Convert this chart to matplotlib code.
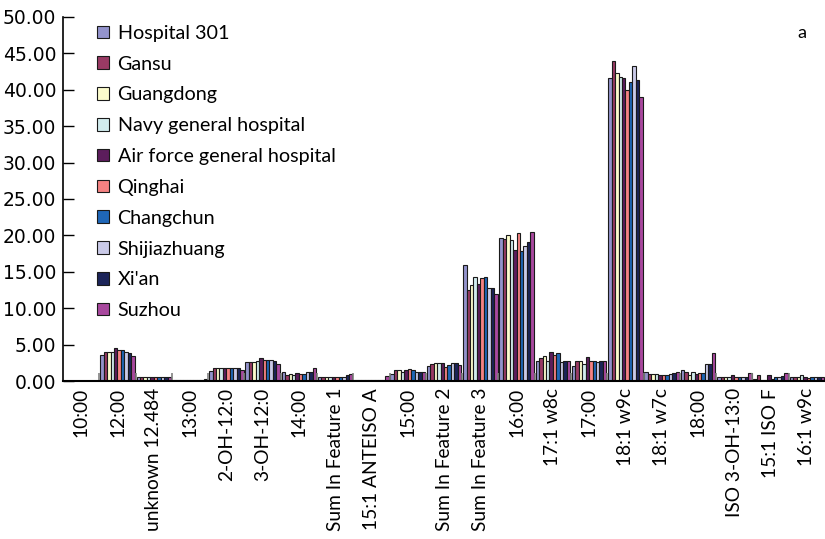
import numpy as np
import matplotlib
matplotlib.use("Agg")
import matplotlib.pyplot as plt
from matplotlib.ticker import FixedLocator, FormatStrFormatter

# Categories (fatty acids) on the x axis
categories = ["10:00", "12:00", "unknown 12.484", "13:00", "2-OH-12:0", "3-OH-12:0",
              "14:00", "Sum In Feature 1", "15:1 ANTEISO A", "15:00", "Sum In Feature 2",
              "Sum In Feature 3", "16:00", "17:1 w8c", "17:00", "18:1 w9c", "18:1 w7c",
              "18:00", "ISO 3-OH-13:0", "15:1 ISO F", "16:1 w9c"]

hospital_301 = [0, 3.6, 0.5, 0.2, 1.4, 2.6, 1.2, 0.5, 0.2, 1.0, 2.0, 15.9, 19.7, 2.8, 2.0, 41.6, 1.2, 1.5, 0.5, 0.3, 0.5]
gansu        = [0, 4.0, 0.5, 0.2, 1.8, 2.6, 0.8, 0.5, 0.2, 1.5, 2.3, 12.5, 19.5, 3.1, 2.8, 44.0, 1.0, 1.2, 0.5, 0.8, 0.5]
guangdong    = [0, 4.0, 0.5, 0.2, 1.8, 2.6, 1.0, 0.5, 0.2, 1.5, 2.5, 13.2, 20.0, 3.4, 2.8, 42.3, 1.0, 0.8, 0.5, 0.2, 0.5]
navy         = [0, 4.0, 0.5, 0.2, 1.8, 2.8, 0.8, 0.5, 0.2, 1.2, 2.5, 14.3, 19.4, 2.8, 2.4, 41.7, 1.0, 1.2, 0.5, 0.2, 0.8]
air_force    = [0, 4.6, 0.5, 0.2, 1.8, 3.1, 1.1, 0.5, 0.2, 1.5, 2.5, 13.3, 18.0, 4.0, 3.3, 41.6, 0.8, 1.0, 0.8, 0.8, 0.5]
qinghai      = [0, 4.3, 0.5, 0.2, 1.8, 2.9, 1.0, 0.5, 0.2, 1.7, 1.9, 14.1, 20.3, 3.6, 2.7, 40.0, 0.8, 1.1, 0.5, 0.3, 0.4]
changchun    = [0, 4.3, 0.5, 0.2, 1.8, 2.9, 1.0, 0.6, 0.2, 1.5, 2.2, 14.3, 17.9, 3.8, 2.8, 41.1, 0.8, 1.1, 0.5, 0.5, 0.5]
shijiazhuang = [0, 4.0, 0.5, 0.2, 1.8, 2.9, 1.3, 0.5, 0.2, 1.2, 2.5, 12.8, 18.6, 2.6, 2.6, 43.2, 1.0, 2.3, 0.6, 0.5, 0.5]
xian         = [0, 3.9, 0.5, 0.2, 1.8, 2.8, 1.2, 0.8, 0.2, 1.2, 2.5, 12.8, 19.1, 2.7, 2.7, 41.3, 1.1, 2.3, 0.6, 0.7, 0.5]
suzhou       = [0, 3.5, 0.5, 0.3, 1.5, 2.3, 1.8, 1.0, 0.7, 1.2, 2.2, 11.9, 20.5, 2.7, 2.8, 39.0, 1.2, 3.9, 1.1, 1.1, 0.5]

series_names = ["Hospital 301", "Gansu", "Guangdong", "Navy general hospital",
                "Air force general hospital", "Qinghai", "Changchun", "Shijiazhuang",
                "Xi'an", "Suzhou"]
series_values = [hospital_301, gansu, guangdong, navy, air_force, qinghai,
                 changchun, shijiazhuang, xian, suzhou]
colors = ["#9393cc", "#993a64", "#fcfccc", "#d2ecee", "#5c1d5c", "#f58282",
          "#1f67b8", "#cacae8", "#1c2459", "#a8489e"]

fig = plt.figure(figsize=(8.25, 5.39), dpi=100)
ax = fig.add_axes([0.0764, 0.2931, 0.9236, 0.6754])

x = np.arange(len(categories))
n = len(series_values)
bar_w = 0.095
for i, (name, vals, col) in enumerate(zip(series_names, series_values, colors)):
    offs = (i - (n - 1) / 2) * bar_w
    ax.bar(x + offs, vals, width=bar_w, color=col, edgecolor="#1a1a1a",
           linewidth=0.8, label=name)

ax.set_xlim(-0.5, len(categories) - 0.5)
ax.set_ylim(0, 50)
ax.set_yticks(np.arange(0, 50.1, 5))
ax.yaxis.set_major_formatter(FormatStrFormatter("%.2f"))
ax.tick_params(axis="y", direction="in", length=8, width=1, labelsize=13.5, pad=5)
for lab in ax.get_yticklabels():
    lab.set_family("DejaVu Sans")

ax.set_xticks(x)
ax.set_xticklabels(categories, rotation=90, fontsize=13.8, family="Lato")
ax.tick_params(axis="x", which="major", length=0, pad=5)
ax.xaxis.set_minor_locator(FixedLocator(np.arange(0.5, len(categories) - 0.5, 1)))
ax.tick_params(axis="x", which="minor", direction="in", length=6, width=1.2, color="#808080")

for s in ["top", "right"]:
    ax.spines[s].set_visible(False)
ax.spines["left"].set_linewidth(1.2)
ax.spines["bottom"].set_linewidth(1.5)

leg = ax.legend(loc="upper left", bbox_to_anchor=(0.034, 1.0), frameon=False,
                prop={"family": "Lato", "size": 14.2}, handlelength=0.6, handleheight=0.6,
                handletextpad=0.45, labelspacing=0.7, borderaxespad=0)

ax.text(0.975, 0.955, "a", transform=ax.transAxes, fontsize=13, family="Lato",
        ha="right", va="center")

fig.savefig("out.png", dpi=100)
